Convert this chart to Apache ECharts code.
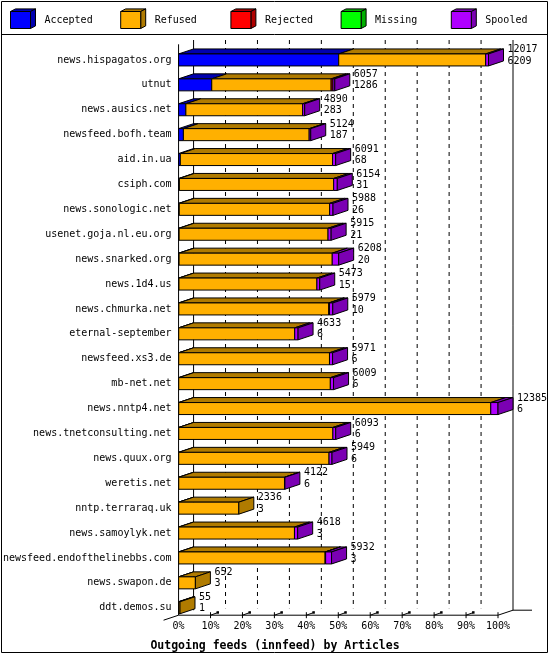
<!DOCTYPE html>
<html><head><meta charset="utf-8">
<script src="https://cdn.jsdelivr.net/npm/echarts@6/dist/echarts.min.js"></script>
<style>html,body{margin:0;padding:0;background:#fff}#c{width:550px;height:655px}</style>
</head><body><div id="c"></div>
<script>
// ---- data ----
const categories = ['news.hispagatos.org','utnut','news.ausics.net','newsfeed.bofh.team','aid.in.ua','csiph.com','news.sonologic.net','usenet.goja.nl.eu.org','news.snarked.org','news.1d4.us','news.chmurka.net','eternal-september','newsfeed.xs3.de','mb-net.net','news.nntp4.net','news.tnetconsulting.net','news.quux.org','weretis.net','nntp.terraraq.uk','news.samoylyk.net','newsfeed.endofthelinebbs.com','news.swapon.de','ddt.demos.su'];
const offered  = [12017,6057,4890,5124,6091,6154,5988,5915,6208,5473,5979,4633,5971,6009,12385,6093,5949,4122,2336,4618,5932,652,55];
const accepted = [6209,1286,283,187,68,31,26,21,20,15,10,6,6,6,6,6,6,6,3,3,3,3,1];
const refused  = [5698,4630,4527,4877,5903,5983,5832,5774,5938,5348,5814,4497,5845,5878,12099,5977,5828,4101,2333,4490,5679,649,54];
const rejected = [0,70,0,0,0,0,0,0,0,0,25,0,0,0,0,0,0,0,0,0,20,0,0];
const missing  = [0,0,0,0,0,0,0,0,0,0,0,0,0,0,0,0,0,0,0,0,0,0,0];
const spooled  = [110,71,80,60,120,140,130,120,250,110,130,130,120,125,280,110,115,15,0,125,230,0,0];
const statusNames = ['Accepted','Refused','Rejected','Missing','Spooled'];
const xTickLabels = ['0%','10%','20%','30%','40%','50%','60%','70%','80%','90%','100%'];
const titleText = 'Outgoing feeds (innfeed) by Articles';

// ---- style ----
const FRONT = ['#0000ff','#ffb000','#ff0000','#00ff00','#b000ff'];
const DARK  = ['#0000b0','#b07b00','#b00000','#00b000','#7b00b3'];
const DX = 15, DY = 5, BAR_H = 12;
const FONT = '"DejaVu Sans Mono","Liberation Mono",monospace';

const segs = [accepted, refused, rejected, missing, spooled];
const scaleMax = Math.max(...offered);

function segData(k) {
  const out = [];
  categories.forEach((c, i) => {
    let start = 0;
    for (let j = 0; j < k; j++) start += segs[j][i];
    const end = start + segs[k][i];
    let last = -1;
    for (let j = 0; j < segs.length; j++) if (segs[j][i] > 0) last = j;
    if (segs[k][i] > 0) out.push([start, end, i, last === k ? 1 : 0]);
  });
  return out;
}

function barRenderer(k) {
  return function (params, api) {
    const a = api.coord([api.value(0), api.value(2)]);
    const b = api.coord([api.value(1), api.value(2)]);
    const x0 = a[0], x1 = b[0];
    const yT = a[1] - BAR_H / 2, yB = a[1] + BAR_H / 2;
    const st = { stroke: '#000', lineWidth: 1 };
    const children = [
      { type: 'polygon', shape: { points: [[x0, yT], [x1, yT], [x1 + DX, yT - DY], [x0 + DX, yT - DY]] },
        style: Object.assign({ fill: DARK[k] }, st) },
      { type: 'rect', shape: { x: x0, y: yT, width: Math.max(x1 - x0, 0.5), height: BAR_H },
        style: Object.assign({ fill: FRONT[k] }, st) }
    ];
    if (api.value(3) === 1) {
      children.push({ type: 'polygon', shape: { points: [[x1, yT], [x1 + DX, yT - DY], [x1 + DX, yB - DY], [x1, yB]] },
        style: Object.assign({ fill: DARK[k] }, st) });
    }
    return { type: 'group', children };
  };
}

function frameRenderer(params, api) {
  const cs = params.coordSys;
  const yFloor = cs.y + cs.height - 5;
  const yBackTop = cs.y - 7.5;
  const yFrontTop = cs.y - 3.2;
  const children = [];
  const L = (x1, y1, x2, y2, dash, w) => children.push({ type: 'line', shape: { x1, y1, x2, y2 },
    style: { stroke: '#000', lineWidth: w || 1, lineDash: dash || null } });
  const xs = xTickLabels.map((t, i) => api.coord([i * scaleMax / 10, 0])[0]);
  const x0 = xs[0], x10 = xs[10];
  // back walls
  L(x0 + DX, yBackTop, x0 + DX, yFloor - DY);
  L(x10 + DX, yBackTop, x10 + DX, yFloor - DY);
  // front left axis
  L(x0, yFrontTop, x0, yFloor);
  // floor
  L(x0 - DX, yFloor + DY, x0, yFloor);
  L(x0, yFloor, x10, yFloor);
  L(x10, yFloor, x10 + DX, yFloor - DY);
  L(x10 + DX, yFloor - DY, x10 + DX + 19, yFloor - DY);
  for (let i = 1; i < xs.length; i++) {
    const x = xs[i];
    if (i < 10) {
      L(x + DX, yBackTop, x + DX, yFloor - DY - 2, [4, 4]);
      L(x, yFloor, x + 7, yFloor - 2.5);
      children.push({ type: 'rect', shape: { x: x + 6, y: yFloor - 4, width: 2.5, height: 2.5 }, style: { fill: '#000' } });
    }
    L(x, yFloor - 3, x, yFloor + 3);
  }
  return { type: 'group', children };
}

function labelRenderer(params, api) {
  const p = api.coord([api.value(0), api.value(1)]);
  return { type: 'text', x: p[0] + DX + 4, y: p[1] - 4.75,
    style: { text: api.value(2) + '\n' + api.value(3), font: '10px ' + FONT, fill: '#000',
      align: 'left', verticalAlign: 'middle', lineHeight: 11.5 } };
}

const labelData = categories.map((c, i) => {
  let end = 0; for (let j = 0; j < segs.length; j++) end += segs[j][i];
  return [end, i, offered[i], accepted[i]];
});

const series = [{
  type: 'custom', name: 'frame', renderItem: frameRenderer, data: [[0, 0]], silent: true, z: 1, clip: false
}];
statusNames.forEach((n, k) => series.push({
  type: 'custom', name: n, renderItem: barRenderer(k), encode: { x: [0, 1], y: 2 },
  data: segData(k), z: 2, clip: false, itemStyle: { color: FRONT[k] }
}));
series.push({ type: 'custom', name: 'labels', renderItem: labelRenderer, encode: { x: 0, y: 1 },
  data: labelData, z: 3, silent: true, clip: false });

// legend drawn as 3D boxes
const graphic = [
  { type: 'rect', shape: { x: 1.5, y: 1.5, width: 546, height: 651 }, style: { fill: 'none', stroke: '#000', lineWidth: 1 } },
  { type: 'line', shape: { x1: 1.5, y1: 34.5, x2: 547.5, y2: 34.5 }, style: { stroke: '#000', lineWidth: 1 } }
];
statusNames.forEach((n, k) => {
  const x = 10.5 + 110.2 * k, y = 11.5, w = 20, h = 17, d = 5, e = 2.6;
  graphic.push(
    { type: 'polygon', shape: { points: [[x, y], [x + w, y], [x + w + d, y - e], [x + d, y - e]] }, style: { fill: DARK[k], stroke: '#000', lineWidth: 1 } },
    { type: 'polygon', shape: { points: [[x + w, y], [x + w + d, y - e], [x + w + d, y + h - e], [x + w, y + h]] }, style: { fill: DARK[k], stroke: '#000', lineWidth: 1 } },
    { type: 'rect', shape: { x, y, width: w, height: h }, style: { fill: FRONT[k], stroke: '#000', lineWidth: 1 } },
    { type: 'text', x: x + 34, y: 20.5, style: { text: n, font: '10px ' + FONT, fill: '#000', verticalAlign: 'middle' } }
  );
});

const chart = echarts.init(document.getElementById('c'), null, { renderer: 'canvas' });
chart.setOption({
  animation: false,
  backgroundColor: '#fff',
  title: { text: titleText, left: 'center', top: 635,
    textStyle: { fontFamily: FONT, fontWeight: 'bold', fontSize: 11.5, color: '#000' } },
  legend: { show: false, data: statusNames },
  grid: { left: 176.8, top: 47.5, width: 321.2, height: 572.7 },
  xAxis: {
    type: 'value', min: 0, max: scaleMax, interval: scaleMax / 10,
    axisLine: { show: false }, axisTick: { show: false }, splitLine: { show: false },
    axisLabel: { margin: 1, fontFamily: FONT, fontSize: 10, color: '#000',
      formatter: (v) => xTickLabels[Math.round(v / scaleMax * 10)] }
  },
  yAxis: {
    type: 'category', data: categories, inverse: true,
    axisLine: { show: false }, axisTick: { show: false }, splitLine: { show: false },
    axisLabel: { margin: 7, fontFamily: FONT, fontSize: 10, color: '#000' }
  },
  graphic,
  series
});
</script></body></html>
